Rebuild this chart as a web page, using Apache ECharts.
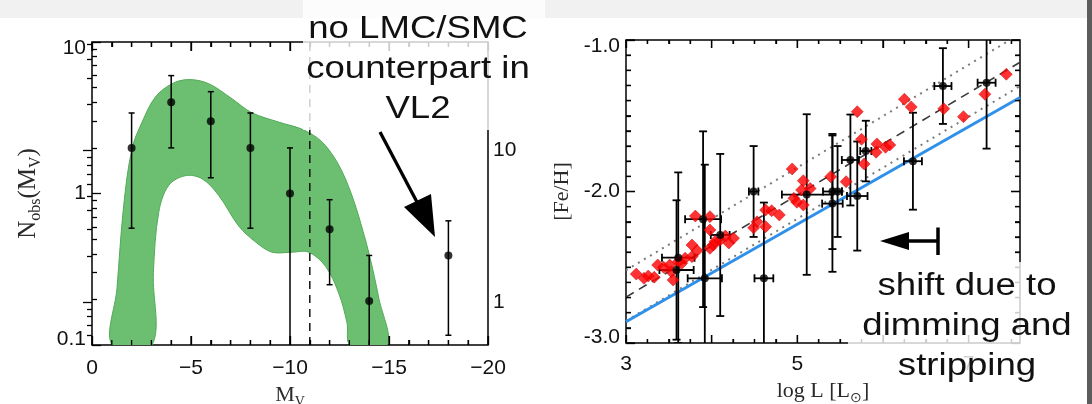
<!DOCTYPE html>
<html>
<head>
<meta charset="utf-8">
<title>Satellite luminosity function and luminosity–metallicity relation</title>
<script src="https://cdn.jsdelivr.net/npm/echarts@6.0.0/dist/echarts.min.js"></script>
<style>
  html, body { margin: 0; padding: 0; background: #fff; }
  #chart { width: 1092px; height: 404px; }
</style>
</head>
<body>
<div id="chart"></div>
<script>
// ---------- Left panel: observed satellite counts per magnitude bin ----------
const mvBins   = [-2, -4, -6, -8, -10, -12, -14, -18];
const nObs     = [2.0, 4.0, 3.0, 2.0, 1.0, 0.58, 0.195, 0.39];
const nObsHi   = [3.4, 6.0, 4.7, 3.4, 2.0, 0.91, 0.39, 0.66];
const nObsLo   = [0.59, 2.0, 1.27, 0.59, 0.05, 0.25, 0.05, 0.116];

// model band: upper and lower envelopes
const bandUpperMv = [-1.01, -1.26, -1.6, -2.02, -2.53, -3.2, -4.04, -4.88, -5.9, -7.07, -8.08, -9.43, -10.77, -11.8, -12.8, -13.8, -14.5, -14.9];
const bandUpperN  = [0.1, 0.235, 0.83, 1.97, 2.96, 4.33, 5.3, 5.65, 5.3, 4.22, 3.41, 2.96, 2.6, 2.07, 1.25, 0.50, 0.20, 0.1];
const bandLowerMv = [-3.03, -3.1, -3.37, -3.87, -4.71, -5.56, -6.4, -7.41, -8.25, -9.09, -10.1, -10.94, -11.8, -12.46, -12.88, -13.05];
const bandLowerN  = [0.1, 0.30, 0.75, 1.13, 1.31, 1.25, 0.97, 0.61, 0.48, 0.41, 0.41, 0.41, 0.33, 0.22, 0.14, 0.1];

const mvLimit = -11;               // dashed completeness limit
const mvRange = [-20, 0];
const nRange = [0.1, 10];          // left axis
const nRightRange = [0.519, 51.9]; // right-hand axis of the left panel

// tick values
const mvMajor = [0, -5, -10, -15, -20];
const nMajor = [0.1, 1, 10];
const nRightMajor = [1, 10];

// ---------- Right panel: luminosity–metallicity ----------
const redLogL = [3.12, 3.21, 3.26, 3.33, 3.37, 3.44, 3.51, 3.53, 3.55, 3.61, 3.65, 3.69, 3.77, 3.77, 3.83, 3.81, 3.98, 3.98, 3.98, 4.02, 4.04, 4.10, 4.16, 4.20, 4.255, 4.53, 4.49, 4.63, 4.63, 4.70, 4.79, 4.94, 4.96, 4.995, 5.07, 5.07, 5.05, 5.15, 5.39, 5.57, 5.70, 5.75, 5.78, 5.93, 5.92, 6.03, 6.08, 6.25, 6.33, 6.71, 6.94, 7.19, 7.44];
const redFeH  = [-2.545, -2.573, -2.558, -2.566, -2.485, -2.50, -2.485, -2.53, -2.584, -2.463, -2.474, -2.44, -2.353, -2.43, -2.39, -2.162, -2.166, -2.254, -2.375, -2.353, -2.33, -2.32, -2.294, -2.34, -2.308, -2.20, -2.24, -2.122, -2.232, -2.127, -2.155, -1.851, -2.045, -2.071, -2.089, -1.929, -1.99, -1.98, -1.902, -1.935, -1.473, -1.655, -1.818, -1.686, -1.741, -1.708, -1.693, -1.391, -1.442, -1.453, -1.506, -1.358, -1.226];

const obsLogL    = [3.61, 3.59, 3.90, 3.92, 4.10, 4.49, 4.61, 5.11, 5.41, 5.47, 5.41, 5.62, 5.70, 5.80, 6.35, 6.70, 7.21];
const obsFeH     = [-2.437, -2.518, -2.183, -2.573, -2.287, -2.00, -2.573, -2.02, -2.00, -2.00, -2.08, -1.792, -2.03, -1.733, -1.80, -1.304, -1.282];
const obsFeHErr  = [0.563, 0.46, 0.58, 0.75, 0.535, 0.30, 0.50, 0.53, 0.38, 0.30, 0.45, 0.30, 0.36, 0.20, 0.32, 0.25, 0.435];
const obsLogLErr = [0.19, 0.20, 0.21, 0.20, 0.11, 0.055, 0.11, 0.29, 0.11, 0.05, 0.12, 0.10, 0.12, 0.065, 0.105, 0.10, 0.105];

// relation lines (end points at the axis limits)
const fitLogL    = [3, 7.6];
const fitShifted = [-2.86, -1.38];
const fitMean    = [-2.697, -1.147];
const fitUpper   = [-2.52, -0.96];
const fitLower   = [-2.854, -1.304];

const logLRange = [3, 7.6];
const fehRange  = [-3, -1];
const logLMajor = [3, 4, 5, 6, 7];
const logLLabels = [3, 5, 7];
const fehMajor  = [-3, -2, -1];

// ---------- minor tick lists ----------
const mvMinor = [];
for (let m = -19; m <= -1; m++) if (m % 5 !== 0) mvMinor.push(m);
function logMinor(decades) {
  const out = [];
  decades.forEach(d => { for (let k = 2; k <= 9; k++) out.push(+(k * d).toPrecision(3)); });
  return out;
}
const nMinor = logMinor([0.1, 1]);
const nRightMinor = logMinor([0.1, 1, 10]).filter(v => v > nRightRange[0] && v < nRightRange[1]);
const logLMinor = [];
for (let v = 3.25; v < 7.6; v += 0.25) if (Math.abs(v - Math.round(v)) > 1e-6) logLMinor.push(+v.toFixed(2));
const fehMinor = [];
for (let k = -29; k <= -11; k++) if (k % 10 !== 0) fehMinor.push(k / 10);

// ---------- styling ----------
const sansFont = '"Liberation Sans", Arial, Helvetica, sans-serif';
const serifFont = '"Liberation Serif", "Times New Roman", serif';
const tickLabel = { fontFamily: sansFont, fontSize: 21, color: '#111' };
const nameColor = '#2a2a2a';
function nameRich(size, subSize) {
  return {
    n: { fontFamily: serifFont, fontSize: size, color: nameColor, lineHeight: size + 6 },
    s: { fontFamily: serifFont, fontSize: subSize, color: nameColor, lineHeight: subSize, verticalAlign: 'bottom' }
  };
}
// end labels of an axis sit just inside the frame
const edgeRich = {
  lo: Object.assign({}, tickLabel, { padding: [0, 0, 12, 0] }),
  hi: Object.assign({}, tickLabel, { padding: [12, 0, 0, 0] }),
  mid: Object.assign({}, tickLabel)
};
function edgeLabel(text, v, lo, hi) {
  if (Math.abs(v - lo) < 1e-9) return '{lo|' + text + '}';
  if (Math.abs(v - hi) < 1e-9) return '{hi|' + text + '}';
  return '{mid|' + text + '}';
}

// ---------- axes ----------
// Every frame edge gets an axis carrying the major ticks and a twin carrying the minor ticks;
// all ticks point into the plot.
function frameAxis(base, position, ticks, len, extra) {
  return Object.assign({
    position: position,
    axisLine: { show: false },
    splitLine: { show: false },
    axisLabel: { show: false },
    axisTick: { show: true, inside: true, length: len, customValues: ticks,
                lineStyle: { color: '#000', width: 1.3 } }
  }, base, extra || {});
}

const leftX  = { gridIndex: 0, type: 'value', min: mvRange[0], max: mvRange[1], inverse: true };
const leftY  = { gridIndex: 0, type: 'log', logBase: 10, min: nRange[0], max: nRange[1] };
const leftY2 = { gridIndex: 0, type: 'log', logBase: 10, min: nRightRange[0], max: nRightRange[1] };
const rightX = { gridIndex: 1, type: 'value', min: logLRange[0], max: logLRange[1] };
const rightY = { gridIndex: 1, type: 'value', min: fehRange[0], max: fehRange[1] };

const xAxes = [
  frameAxis(leftX, 'bottom', mvMajor, 9, {
    axisLabel: Object.assign({}, tickLabel, { margin: 13, customValues: mvMajor,
      formatter: v => v === 0 ? '0' : '\u2212' + Math.abs(v) }),
    name: '{n|M}{s|V}', nameLocation: 'middle', nameGap: 36, nameTextStyle: { rich: nameRich(22, 14) }
  }),
  frameAxis(leftX, 'bottom', mvMinor, 5),
  frameAxis(leftX, 'top', mvMajor, 9),
  frameAxis(leftX, 'top', mvMinor, 5),
  frameAxis(rightX, 'bottom', logLMajor, 8, {
    axisLabel: Object.assign({}, tickLabel, { margin: 11, customValues: logLLabels,
      formatter: v => String(v) }),
    name: '{n|log L [L}{s|\u2299}{n|]}', nameLocation: 'middle', nameGap: 34, nameTextStyle: { rich: nameRich(22, 14) }
  }),
  frameAxis(rightX, 'bottom', logLMinor, 4),
  frameAxis(rightX, 'top', logLMajor, 8),
  frameAxis(rightX, 'top', logLMinor, 4)
];

const yAxes = [
  frameAxis(leftY, 'left', nMajor, 9, {
    axisLabel: Object.assign({}, tickLabel, { margin: 6, rich: edgeRich,
      formatter: v => nMajor.some(m => Math.abs(m - v) < 1e-9) ? edgeLabel(String(+v.toPrecision(2)), v, nRange[0], nRange[1]) : '' }),
    name: '{n|N}{s|obs}{n|(M}{s|V}{n|)}', nameLocation: 'middle', nameGap: 48, nameRotate: 90,
    nameTextStyle: { rich: nameRich(25, 16) }
  }),
  frameAxis(leftY, 'left', nMinor, 5),
  frameAxis(leftY2, 'right', nRightMajor, 9, {
    axisLabel: Object.assign({}, tickLabel, { margin: 5, showMinLabel: false, showMaxLabel: false,
      formatter: v => nRightMajor.some(m => Math.abs(m - v) < 1e-9) ? String(+v.toPrecision(2)) : '' })
  }),
  frameAxis(leftY2, 'right', nRightMinor, 5),
  frameAxis(rightY, 'left', fehMajor, 9, {
    axisLabel: Object.assign({}, tickLabel, { margin: 6, rich: edgeRich, customValues: fehMajor,
      formatter: v => edgeLabel(v.toFixed(1), v, fehRange[0], fehRange[1]) }),
    name: '{n|[Fe/H]}', nameLocation: 'middle', nameGap: 50, nameRotate: 90,
    nameTextStyle: { rich: nameRich(22, 14) }
  }),
  frameAxis(rightY, 'left', fehMinor, 5),
  frameAxis(rightY, 'right', fehMajor, 9),
  frameAxis(rightY, 'right', fehMinor, 5)
];

// ---------- error bars ----------
function errorBars(xi, yi, rows, cap, lw) {
  return {
    type: 'custom', xAxisIndex: xi, yAxisIndex: yi, silent: true, z: 3, clip: true,
    data: rows,
    renderItem: function (params, api) {
      const x = api.value(0), y = api.value(1);
      const ylo = api.value(2), yhi = api.value(3), xlo = api.value(4), xhi = api.value(5);
      const st = { stroke: '#000', lineWidth: lw };
      const top = api.coord([x, yhi]), bot = api.coord([x, ylo]);
      const kids = [
        { type: 'line', shape: { x1: top[0], y1: top[1], x2: bot[0], y2: bot[1] }, style: st },
        { type: 'line', shape: { x1: top[0] - cap / 2, y1: top[1], x2: top[0] + cap / 2, y2: top[1] }, style: st },
        { type: 'line', shape: { x1: bot[0] - cap / 2, y1: bot[1], x2: bot[0] + cap / 2, y2: bot[1] }, style: st }
      ];
      if (xlo !== xhi) {
        const l = api.coord([xlo, y]), r = api.coord([xhi, y]);
        kids.push({ type: 'line', shape: { x1: l[0], y1: l[1], x2: r[0], y2: r[1] }, style: st });
        kids.push({ type: 'line', shape: { x1: l[0], y1: l[1] - cap / 2, x2: l[0], y2: l[1] + cap / 2 }, style: st });
        kids.push({ type: 'line', shape: { x1: r[0], y1: r[1] - cap / 2, x2: r[0], y2: r[1] + cap / 2 }, style: st });
      }
      return { type: 'group', children: kids };
    }
  };
}

const leftRows = mvBins.map((m, i) => [m, nObs[i], nObsLo[i], nObsHi[i], m, m]);
const rightRows = obsLogL.map((l, i) => [l, obsFeH[i], obsFeH[i] - obsFeHErr[i], obsFeH[i] + obsFeHErr[i], l - obsLogLErr[i], l + obsLogLErr[i]]);

const RX = 4, RY = 4; // axis indices of the right panel
function fitLine(values, color, width, dash) {
  return {
    type: 'line', xAxisIndex: RX, yAxisIndex: RY, symbol: 'none', silent: true, z: 2, clip: true,
    data: fitLogL.map((l, i) => [l, values[i]]),
    lineStyle: { color: color, width: width, type: dash }
  };
}

// ---------- annotations ----------
const annotations = [
  // page furniture
  { type: 'rect', z: 0, shape: { x: 0, y: 0, width: 1092, height: 18 }, style: { fill: '#f1f1f1' } },
  { type: 'rect', z: 0, shape: { x: 1087, y: 0, width: 5, height: 404 }, style: { fill: '#5c5c5c' } },
  // annotation backdrops
  { type: 'rect', z: 100, shape: { x: 303, y: 0, width: 242, height: 130 }, style: { fill: 'rgba(255,255,255,0.8)' } },
  { type: 'rect', z: 100, shape: { x: 848, y: 262, width: 234, height: 110 }, style: { fill: 'rgba(255,255,255,0.8)' } },
  // missing counterpart
  { type: 'text', z: 102, x: 418, y: 9, scaleX: 1.18,
    style: { text: 'no LMC/SMC\ncounterpart in\nVL2', font: '31px ' + sansFont, fill: '#111',
             align: 'center', textAlign: 'center', verticalAlign: 'top', textVerticalAlign: 'top', lineHeight: 40 } },
  { type: 'line', z: 102, shape: { x1: 380, y1: 132, x2: 418, y2: 204 }, style: { stroke: '#000', lineWidth: 3.3 } },
  { type: 'polygon', z: 102, shape: { points: [[435, 237], [404, 207], [431, 194]] }, style: { fill: '#000' } },
  // luminosity shift
  { type: 'polygon', z: 102, shape: { points: [[880, 241], [909, 232], [909, 250]] }, style: { fill: '#000' } },
  { type: 'line', z: 102, shape: { x1: 906, y1: 241, x2: 938, y2: 241 }, style: { stroke: '#000', lineWidth: 3.5 } },
  { type: 'line', z: 102, shape: { x1: 938, y1: 227.5, x2: 938, y2: 255 }, style: { stroke: '#000', lineWidth: 3.5 } },
  { type: 'text', z: 102, x: 967, y: 266, scaleX: 1.18,
    style: { text: 'shift due to\ndimming and\nstripping', font: '31px ' + sansFont, fill: '#111',
             align: 'center', textAlign: 'center', verticalAlign: 'top', textVerticalAlign: 'top', lineHeight: 40 } }
];

const chart = echarts.init(document.getElementById('chart'));

const LEFT_POINTS = 3, RIGHT_POINTS = 10; // series used to map data to pixels
const option = {
  animation: false,
  backgroundColor: '#fff',
  grid: [
    { left: 92, right: 604, top: 42, bottom: 59, show: true, borderColor: '#000', borderWidth: 1.5,
      containLabel: false, outerBoundsMode: 'none' },
    { left: 626, right: 72, top: 40, bottom: 61, show: true, borderColor: '#000', borderWidth: 1.5,
      containLabel: false, outerBoundsMode: 'none' }
  ],
  xAxis: xAxes,
  yAxis: yAxes,
  series: [
    // model band
    {
      type: 'custom', xAxisIndex: 0, yAxisIndex: 0, silent: true, z: 1, clip: true,
      data: [[bandUpperMv[0], bandUpperN[0]]],
      renderItem: function (params, api) {
        const pts = [];
        for (let i = 0; i < bandUpperMv.length; i++) pts.push(api.coord([bandUpperMv[i], bandUpperN[i]]));
        for (let i = bandLowerMv.length - 1; i >= 0; i--) pts.push(api.coord([bandLowerMv[i], bandLowerN[i]]));
        return { type: 'polygon', shape: { points: pts, smooth: 0.35 },
                 style: { fill: '#6cbf71', stroke: '#52aa58', lineWidth: 1 } };
      }
    },
    {
      type: 'line', xAxisIndex: 0, yAxisIndex: 0, symbol: 'none', silent: true, z: 2,
      data: [[mvLimit, nRange[0]], [mvLimit, nRange[1]]],
      lineStyle: { color: '#111', width: 1.5, type: [8, 6] }
    },
    errorBars(0, 0, leftRows, 6, 1.5),
    {
      type: 'scatter', xAxisIndex: 0, yAxisIndex: 0, symbol: 'circle', symbolSize: 8, z: 4, silent: true,
      data: mvBins.map((m, i) => [m, nObs[i]]),
      itemStyle: { color: '#000' }
    },

    // right panel relations
    fitLine(fitUpper, '#7a7a7a', 2, [2, 5]),
    fitLine(fitLower, '#7a7a7a', 2, [2, 5]),
    fitLine(fitMean, '#3a3a3a', 1.6, [9, 6]),
    fitLine(fitShifted, '#2f90ea', 3, 'solid'),
    errorBars(RX, RY, rightRows, 8, 1.8),
    {
      type: 'scatter', xAxisIndex: RX, yAxisIndex: RY, symbol: 'diamond', symbolSize: 12, z: 4, silent: true,
      data: redLogL.map((l, i) => [l, redFeH[i]]),
      itemStyle: { color: '#ff0000', borderColor: '#c40000', borderWidth: 0.6 }
    },
    {
      type: 'scatter', xAxisIndex: RX, yAxisIndex: RY, symbol: 'circle', symbolSize: 8, z: 5, silent: true,
      data: obsLogL.map((l, i) => [l, obsFeH[i]]),
      itemStyle: { color: '#000' }
    }
  ],
  graphic: { elements: annotations }
};

chart.setOption(option);

// ---------- inward ticks on the linear frame edges, mapped through the series' coordinate systems ----------
try {
  const tickEls = [];
  const toPx = (si, pt) => chart.convertToPixel({ seriesIndex: si }, pt);
  const addTick = (p, dx, dy) => {
    if (p && isFinite(p[0]) && isFinite(p[1])) {
      tickEls.push({ type: 'line', z: 50, silent: true,
        shape: { x1: p[0], y1: p[1], x2: p[0] + dx, y2: p[1] + dy },
        style: { stroke: '#000', lineWidth: 1.3 } });
    }
  };
  const hTicks = (si, values, yLimits, len) => values.forEach(v => {
    addTick(toPx(si, [v, yLimits[0]]), 0, -len);
    addTick(toPx(si, [v, yLimits[1]]), 0, len);
  });
  const vTicks = (si, values, xLimits, len) => values.forEach(v => {
    addTick(toPx(si, [xLimits[0], v]), len, 0);
    addTick(toPx(si, [xLimits[1], v]), -len, 0);
  });
  hTicks(LEFT_POINTS, mvMajor, nRange, 9);
  hTicks(LEFT_POINTS, mvMinor, nRange, 5);
  hTicks(RIGHT_POINTS, logLMajor, fehRange, 8);
  hTicks(RIGHT_POINTS, logLMinor, fehRange, 4);
  vTicks(RIGHT_POINTS, fehMajor, logLRange, 9);
  vTicks(RIGHT_POINTS, fehMinor, logLRange, 5);
  if (tickEls.length) chart.setOption({ graphic: { elements: annotations.concat(tickEls) } });
} catch (e) {
  // keep the chart as drawn if the mapping is unavailable
}
</script>
</body>
</html>
